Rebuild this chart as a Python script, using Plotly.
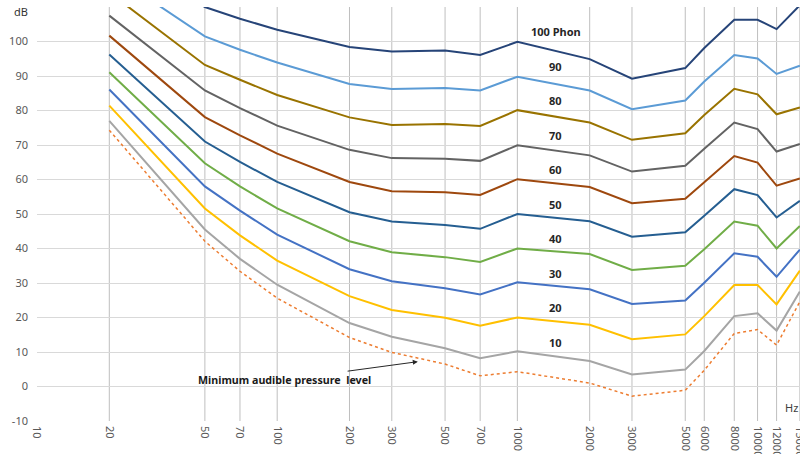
import math
import plotly.graph_objects as go

freqs = [20, 50, 70, 100, 200, 300, 500, 700, 1000, 2000, 3000, 5000, 6000, 8000, 10000, 12000, 15000]

phon_100 = [127.0, 110.0, 106.6, 103.4, 98.4, 97.1, 97.4, 96.1, 99.9, 94.9, 89.2, 92.3, 98.1, 106.3, 106.3, 103.6, 110.5]
phon_90 = [120.0, 101.5, 97.6, 93.9, 87.7, 86.2, 86.5, 85.8, 89.8, 85.8, 80.4, 82.9, 88.4, 96.1, 95.1, 90.6, 93.0]
phon_80 = [114.2, 93.2, 88.9, 84.5, 78.0, 75.8, 76.1, 75.5, 80.1, 76.5, 71.5, 73.4, 78.7, 86.3, 84.7, 78.9, 80.9]
phon_70 = [107.5, 85.8, 80.7, 75.6, 68.6, 66.2, 66.0, 65.4, 69.9, 67.0, 62.3, 64.0, 68.9, 76.5, 74.6, 68.1, 70.3]
phon_60 = [101.7, 78.1, 72.8, 67.5, 59.3, 56.6, 56.3, 55.5, 60.1, 57.8, 53.1, 54.4, 59.2, 66.8, 64.9, 58.2, 60.3]
phon_50 = [96.2, 71.0, 65.1, 59.3, 50.5, 47.8, 46.8, 45.7, 50.0, 47.9, 43.4, 44.7, 49.5, 57.2, 55.5, 49.0, 53.8]
phon_40 = [91.1, 64.7, 58.0, 51.6, 42.1, 38.9, 37.5, 36.1, 40.0, 38.4, 33.8, 35.0, 39.8, 47.8, 46.6, 40.0, 46.5]
phon_30 = [86.1, 58.0, 51.0, 44.0, 34.0, 30.5, 28.5, 26.7, 30.2, 28.2, 23.9, 24.9, 30.1, 38.6, 37.6, 31.8, 39.7]
phon_20 = [81.4, 51.6, 43.8, 36.5, 26.2, 22.2, 19.9, 17.6, 20.0, 17.9, 13.7, 15.1, 20.4, 29.4, 29.4, 23.8, 33.6]
phon_10 = [77.0, 45.5, 37.0, 29.5, 18.4, 14.4, 11.1, 8.2, 10.2, 7.4, 3.5, 4.9, 10.3, 20.4, 21.2, 16.2, 27.5]
min_audible = [74.3, 42.1, 33.4, 25.6, 14.2, 9.9, 6.5, 3.1, 4.3, 1.0, -2.8, -1.1, 4.7, 15.4, 16.5, 12.0, 24.6]

series_names = ["100 Phon", "90", "80", "70", "60", "50", "40", "30", "20", "10"]
series_values = [phon_100, phon_90, phon_80, phon_70, phon_60, phon_50, phon_40, phon_30, phon_20, phon_10]
series_colors = ["#264478", "#5B9BD5", "#997300", "#636363", "#9E480E", "#255E91",
                 "#70AD47", "#4472C4", "#FFC000", "#A5A5A5"]
phon_levels = [100, 90, 80, 70, 60, 50, 40, 30, 20, 10]

x_ticks = [10, 20, 50, 70, 100, 200, 300, 500, 700, 1000, 2000, 3000, 5000, 6000, 8000, 10000, 12000, 15000]
y_ticks = [-10, 0, 10, 20, 30, 40, 50, 60, 70, 80, 90, 100, 110]
y_ticktext = [str(v) for v in y_ticks[:-1]] + [""]

FONT = "Noto Sans"

fig = go.Figure()

fig.add_trace(go.Scatter(
    x=freqs, y=min_audible, mode="lines", name="Minimum audible pressure level",
    line=dict(color="#ED7D31", width=1.5, dash="dot"), showlegend=False, hoverinfo="skip"))

for name, vals, col in zip(series_names[::-1], series_values[::-1], series_colors[::-1]):
    fig.add_trace(go.Scatter(
        x=freqs, y=vals, mode="lines", name=name,
        line=dict(color=col, width=2), showlegend=False, hoverinfo="skip"))

# vertical grid lines (not at 10 Hz)
shapes = []
for f in x_ticks[1:]:
    shapes.append(dict(type="line", xref="x", yref="paper", x0=f, x1=f, y0=0, y1=1,
                       line=dict(color="#BFBFBF", width=1), layer="below"))

annotations = []
for name, lvl in zip(series_names, phon_levels):
    annotations.append(dict(x=math.log10(1445), y=lvl + 2.8, xref="x", yref="y",
                            text="<b>" + name + "</b>",
                            showarrow=False, font=dict(family=FONT, size=11, color="#262626"),
                            xanchor="center", yanchor="middle"))

annotations.append(dict(
    x=math.log10(385), y=7.2, xref="x", yref="y",
    text="<b>Minimum audible pressure  level</b>",
    showarrow=True, arrowhead=2, arrowsize=1, arrowwidth=1, arrowcolor="#262626",
    ax=-133, ay=18, font=dict(family=FONT, size=10.7, color="#1a1a1a"), standoff=0))

annotations.append(dict(x=1, y=-6.2, xref="paper", yref="y", text="Hz", showarrow=False,
                        xanchor="right", yanchor="middle",
                        font=dict(family=FONT, size=11, color="#404040")))
annotations.append(dict(x=-0.0092, y=108.6, xref="paper", yref="y", text="dB", showarrow=False,
                        xanchor="right", yanchor="middle",
                        font=dict(family=FONT, size=11, color="#333333")))

fig.update_layout(
    width=800, height=454,
    margin=dict(l=37, r=0, t=7, b=33, autoexpand=False),
    paper_bgcolor="white", plot_bgcolor="white",
    shapes=shapes, annotations=annotations,
    xaxis=dict(type="log", range=[1, math.log10(15000) + 0.0006], tickvals=x_ticks,
               ticktext=[str(v) for v in x_ticks], tickangle=90,
               showgrid=False, zeroline=False, showline=False, automargin=False,
               ticklabeloverflow="allow", ticklabelstandoff=4,
               tickfont=dict(family=FONT, size=11, color="#595959")),
    yaxis=dict(range=[-10, 110], tickvals=y_ticks, ticktext=y_ticktext,
               showgrid=True, gridcolor="#D9D9D9", gridwidth=1, zeroline=False,
               showline=False, automargin=False, ticklabelstandoff=8,
               tickfont=dict(family=FONT, size=11, color="#595959")),
)

# remove the default page margin so the 800x454 figure fills the window exactly
fig.write_html("out.html", config={"displayModeBar": False},
               post_script="document.body.style.margin='0';document.body.style.overflow='hidden';")
